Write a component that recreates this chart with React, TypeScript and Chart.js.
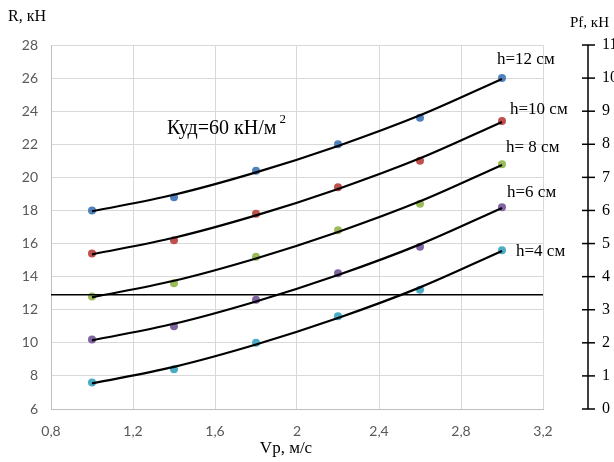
import React, { useEffect, useRef } from "react";
import { Chart, registerables } from "chart.js";
Chart.register(...registerables);

// Speeds Vp, m/s
const speeds = [1.0, 1.4, 1.8, 2.2, 2.6, 3.0];
// Measured R, kN per layer thickness
const h12 = [18, 18.8, 20.4, 22, 23.6, 26];
const h10 = [15.4, 16.2, 17.8, 19.4, 21, 23.4];
const h8 = [12.8, 13.6, 15.2, 16.8, 18.4, 20.8];
const h6 = [10.2, 11, 12.6, 14.2, 15.8, 18.2];
const h4 = [7.6, 8.4, 10, 11.6, 13.2, 15.6];
// Trend curves at the same speeds
const t12 = [17.95, 18.95, 20.3, 21.9, 23.75, 25.95];
const t10 = [15.35, 16.35, 17.7, 19.3, 21.15, 23.35];
const t8 = [12.75, 13.75, 15.1, 16.7, 18.55, 20.75];
const t6 = [10.15, 11.15, 12.5, 14.1, 15.95, 18.15];
const t4 = [7.55, 8.55, 9.9, 11.5, 13.35, 15.55];
// Horizontal reference level
const refLevel = 12.9;
const refX = [0.8, 3.2];
// Right axis Pf ticks
const pfTicks = [0, 1, 2, 3, 4, 5, 6, 7, 8, 9, 10, 11];
const seriesNames = ["h=12 см", "h=10 см", "h= 8 см", "h=6 см", "h=4 см"];
const noteText = "Куд=60 кН/м";

const pointColors = ["#4F81BD", "#C0504D", "#9BBB59", "#8064A2", "#4BACC6"];
const SERIF = "'Liberation Serif', 'Times New Roman', serif";

const fmt = (v: number) => String(Number(v.toFixed(1))).replace(".", ",");

export default function App() {
  const ref = useRef<HTMLCanvasElement | null>(null);
  useEffect(() => {
    const canvas = ref.current!;
    const measured = [h12, h10, h8, h6, h4];
    const trends = [t12, t10, t8, t6, t4];
    const datasets: any[] = [];
    trends.forEach((t) => {
      datasets.push({
        type: "line",
        data: speeds.map((x, i) => ({ x, y: t[i] })),
        borderColor: "#000",
        borderWidth: 2.2,
        pointRadius: 0,
        showLine: true,
        fill: false,
        cubicInterpolationMode: "monotone",
        order: 0,
      });
    });
    datasets.push({
      type: "line",
      data: refX.map((x) => ({ x, y: refLevel })),
      borderColor: "#000",
      borderWidth: 1.5,
      pointRadius: 0,
      showLine: true,
      fill: false,
      order: 0,
    });
    measured.forEach((m, k) => {
      datasets.push({
        type: "scatter",
        data: speeds.map((x, i) => ({ x, y: m[i] })),
        backgroundColor: pointColors[k],
        borderColor: pointColors[k],
        pointRadius: 4,
        borderWidth: 0,
        order: 1,
      });
    });

    const labelsPlugin = {
      id: "extras",
      afterDraw(chart: any) {
        const ctx = chart.ctx;
        const y2 = chart.scales.y2;
        ctx.save();
        ctx.fillStyle = "#000";
        ctx.textBaseline = "middle";
        // axis titles
        ctx.font = `16px ${SERIF}`;
        ctx.textAlign = "left";
        ctx.fillText("R, кН", 8, 17);
        ctx.font = `15px ${SERIF}`;
        ctx.fillText("Pf, кН", 570, 23);
        ctx.font = `17px ${SERIF}`;
        ctx.textAlign = "center";
        ctx.fillText("Vp, м/с", 286, 449);
        // series labels
        ctx.textAlign = "left";
        ctx.font = `17px ${SERIF}`;
        const lp = [
          [497, 60],
          [510, 110],
          [506, 148],
          [507, 193],
          [516, 252],
        ];
        seriesNames.forEach((n, i) => ctx.fillText(n, lp[i][0], lp[i][1]));
        // note
        ctx.font = `20px ${SERIF}`;
        ctx.fillText(noteText, 167, 129);
        const w = ctx.measureText(noteText).width;
        ctx.font = `13px ${SERIF}`;
        ctx.fillText("2", 167 + w + 3, 120);
        // right axis
        const ax = 588;
        ctx.strokeStyle = "#000";
        ctx.lineWidth = 1.5;
        ctx.beginPath();
        ctx.moveTo(ax, y2.getPixelForValue(0));
        ctx.lineTo(ax, y2.getPixelForValue(11));
        ctx.stroke();
        ctx.font = `16px ${SERIF}`;
        pfTicks.forEach((t) => {
          const py = y2.getPixelForValue(t);
          ctx.beginPath();
          ctx.moveTo(ax - 6, py);
          ctx.lineTo(ax + 7, py);
          ctx.stroke();
          ctx.fillText(String(t), 602, py);
        });
        ctx.restore();
      },
    };

    const chart = new Chart(canvas, {
      type: "scatter",
      data: { datasets },
      options: {
        animation: false,
        responsive: false,
        maintainAspectRatio: false,
        layout: { padding: { top: 45, right: 71, left: 0, bottom: 0 } },
        plugins: { legend: { display: false }, tooltip: { enabled: false } },
        scales: {
          x: {
            type: "linear",
            min: 0.8,
            max: 3.2,
            afterFit: (s: any) => {
              s.height = 53;
            },
            ticks: {
              stepSize: 0.4,
              padding: 14,
              color: "#595959",
              font: { family: "Lato", size: 14 },
              callback: (v: any) => fmt(Number(v)),
            },
            grid: { color: "#d9d9d9", lineWidth: 1, drawTicks: false },
            border: { color: "#bfbfbf" },
          },
          y: {
            type: "linear",
            min: 6,
            max: 28,
            afterFit: (s: any) => {
              s.width = 51;
            },
            ticks: {
              stepSize: 2,
              padding: 13,
              color: "#595959",
              font: { family: "Lato", size: 14 },
            },
            grid: { color: "#d9d9d9", lineWidth: 1, drawTicks: false },
            border: { color: "#bfbfbf" },
          },
          y2: {
            type: "linear",
            position: "right",
            min: 0,
            max: 11,
            display: false,
          },
        },
      },
      plugins: [labelsPlugin],
    } as any);
    return () => chart.destroy();
  }, []);
  return (
    <div style={{ position: "absolute", left: 0, top: 0, width: 614, height: 462, background: "#fff" }}>
      <canvas ref={ref} width={614} height={462} style={{ width: 614, height: 462 }} />
    </div>
  );
}
